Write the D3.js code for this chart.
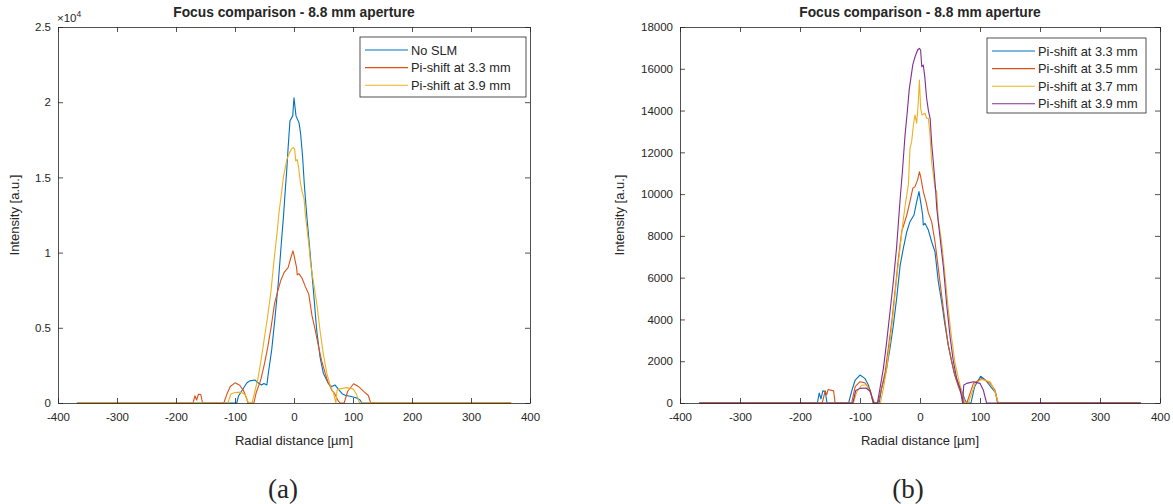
<!DOCTYPE html>
<html><head><meta charset="utf-8">
<script src="https://cdn.jsdelivr.net/npm/d3@7"></script>
<style>
html,body{margin:0;padding:0;background:#fff;}
svg text{font-family:"Liberation Sans",Arial,Helvetica,sans-serif;fill:#262626;}
</style>
</head><body>
<svg id="chart" width="1173" height="504"></svg>
<script>
// ---------- DATA ----------
const chartTitle = "Focus comparison - 8.8 mm aperture";
const xLabel = "Radial distance [µm]";
const yLabel = "Intensity [a.u.]";
const xTicks = [-400, -300, -200, -100, 0, 100, 200, 300, 400];
const yTicksLeft = [0, 5000, 10000, 15000, 20000, 25000];
const yTicksRight = [0, 2000, 4000, 6000, 8000, 10000, 12000, 14000, 16000, 18000];
const legendLeft = ["No SLM", "Pi-shift at 3.3 mm", "Pi-shift at 3.9 mm"];
const legendRight = ["Pi-shift at 3.3 mm", "Pi-shift at 3.5 mm", "Pi-shift at 3.7 mm", "Pi-shift at 3.9 mm"];

// No SLM
const xNoSLM = [-368, -97, -94, -89, -80, -75, -66, -63, -55, -51, -46, -43.5, -37.8, -32, -26.6, -21, -18, -15.3, -12.4, -9.6, -6.8, -2.2, 0, 3.4, 8.5, 11.3, 14.7, 17.5, 21.5, 26, 32.8, 38.4, 44, 49.7, 58, 64, 69.5, 76, 82, 88, 95, 105, 112, 115, 368];
const yNoSLM = [0, 0, 470, 780, 1330, 1470, 1530, 1400, 1200, 1300, 1200, 1980, 3530, 5750, 8000, 10870, 12310, 13870, 15420, 17200, 18760, 19090, 20300, 19090, 18640, 17870, 16310, 14530, 12530, 10530, 7530, 4870, 3090, 1980, 1310, 1090, 1200, 870, 600, 500, 450, 350, 200, 0, 0];

// Pi-shift at 3.3 mm
const x33 = [-368, -171, -168, -165, -162, -158, -155, -119, -114, -108, -100, -92, -86, -81, -78, -68, -64, -58, -55.6, -50, -44.4, -38.9, -33, -27.8, -22, -16.7, -10, -5.5, -1.7, 1, 4.4, 5.5, 8.3, 13.9, 19.4, 25, 30.5, 36, 41.7, 47, 52.8, 58, 64, 69, 75, 78, 85, 91, 101, 109, 119, 126, 130, 368];
const y33 = [0, 0, 480, 200, 580, 560, 0, 0, 560, 1100, 1340, 1180, 860, 380, 0, 0, 700, 1340, 1660, 2620, 3730, 5010, 6610, 7400, 8200, 8680, 9000, 9640, 10120, 9640, 9000, 8520, 8600, 8280, 7720, 7240, 5810, 4850, 3730, 2780, 1980, 1340, 860, 620, 140, 0, 0, 780, 1280, 1100, 740, 500, 0, 0];

// Pi-shift at 3.5 mm
const x35 = [-368, -163, -158, -155.5, -153, -144, -141.5, -114, -108, -100, -92, -83, -78, -70, -64, -58, -52.8, -47, -41.7, -36, -30.5, -22, -16.7, -12, -8.3, -4, -1, 1.1, 5.5, 10, 14, 19.4, 25, 30.5, 36, 41.7, 47, 52.8, 58, 64, 69.5, 73, 78, 89, 103, 117, 125, 129, 368];
const y35 = [0, 0, 580, 400, 650, 580, 0, 0, 780, 1020, 970, 620, 0, 0, 700, 1500, 2620, 3900, 5330, 6930, 8200, 9000, 9640, 10280, 10360, 10680, 11070, 10840, 10120, 9640, 9100, 8680, 7720, 6450, 5170, 3900, 2780, 1980, 1340, 780, 380, 0, 0, 940, 1180, 940, 620, 0, 0];

// Pi-shift at 3.7 mm
const x37 = [-368, -111, -105, -97, -89, -81, -75.5, -66, -61, -55.5, -50, -44.4, -38.9, -33.3, -27.8, -24, -19.4, -16.7, -13.9, -11, -8.3, -5.5, -2.8, -1, 1.1, 3.3, 8.3, 11, 13.9, 16.7, 19.4, 25, 27.8, 30.5, 36, 41.7, 47, 52.8, 58, 64, 69.5, 75, 80.5, 92, 103, 117, 125, 130.5, 368];
const y37 = [0, 0, 560, 860, 860, 380, 0, 0, 700, 1660, 2940, 4370, 5970, 7400, 8800, 9600, 10440, 12190, 12510, 13310, 13790, 13390, 14420, 15460, 14110, 13790, 13870, 13630, 13630, 12830, 11550, 10280, 10120, 8760, 7720, 6130, 4530, 3100, 1980, 1180, 540, 0, 0, 940, 1130, 1020, 540, 0, 0];

// Pi-shift at 3.9 mm
const x39 = [-368, -112, -107, -100, -90, -83, -77, -71, -66.7, -61, -55.5, -50, -44.5, -39, -33, -29, -25, -21, -18, -16, -12, -8, -4, -1, 1, 3, 5.5, 8, 11, 14, 17, 19.5, 22, 25.5, 28, 33.5, 39, 44.5, 50, 55.5, 61, 66.7, 71, 73, 78, 89, 100, 105.5, 111, 368];
const y39 = [0, 0, 600, 700, 720, 560, 0, 0, 700, 1660, 2940, 4370, 5800, 7450, 9800, 11200, 12800, 14000, 15000, 15400, 16200, 16600, 16900, 16980, 16900, 16100, 16180, 15600, 14600, 14000, 13600, 12400, 11600, 10400, 9300, 7900, 6500, 4700, 3200, 2000, 1200, 700, 0, 860, 940, 1020, 940, 620, 0, 0];

// ---------- DRAWING ----------
const colors = ["#0072BD", "#D95319", "#EDB120", "#7E2F8E"];
const svg = d3.select("#chart");
const FONT_TICK = 11.5, FONT_LABEL = 13, FONT_TITLE = 13.8, FONT_LEG = 12.8;

function zip(xs, ys) { return xs.map((x, i) => [x, ys[i]]); }

function panel(opt) {
  const x = d3.scaleLinear().domain([-400, 400]).range([opt.x0, opt.x1]);
  const y = d3.scaleLinear().domain([0, opt.yMax]).range([403, 27]);
  const g = svg.append("g");

  // lines
  const line = d3.line().x(d => x(d[0])).y(d => y(d[1]));
  opt.series.forEach((s, i) => {
    g.append("path").datum(zip(s.x, s.y))
      .attr("fill", "none").attr("stroke", s.color).attr("stroke-width", 1.1)
      .attr("stroke-linejoin", "round").attr("d", line);
  });

  // axes with inward ticks, box
  const axCol = "#262626";
  const xb = g.append("g").attr("transform", `translate(0,${y(0)})`)
    .call(d3.axisBottom(x).tickValues(xTicks).tickSizeInner(-5).tickSizeOuter(0).tickPadding(10).tickFormat(d => String(d)));
  const xt = g.append("g").attr("transform", `translate(0,${y(opt.yMax)})`)
    .call(d3.axisTop(x).tickValues(xTicks).tickSizeInner(-5).tickSizeOuter(0).tickFormat(""));
  const yl = g.append("g").attr("transform", `translate(${opt.x0},0)`)
    .call(d3.axisLeft(y).tickValues(opt.yTicks).tickSizeInner(-5).tickSizeOuter(0).tickPadding(7).tickFormat(opt.yFmt));
  const yr = g.append("g").attr("transform", `translate(${opt.x1},0)`)
    .call(d3.axisRight(y).tickValues(opt.yTicks).tickSizeInner(-5).tickSizeOuter(0).tickFormat(""));
  [xb, xt, yl, yr].forEach(a => {
    a.selectAll("path.domain").attr("stroke", axCol).attr("stroke-width", 0.8);
    a.selectAll(".tick line").attr("stroke", axCol).attr("stroke-width", 0.8);
    a.selectAll("text").attr("font-size", FONT_TICK).attr("fill", axCol)
      .style("font-family", '"Liberation Sans",Arial,sans-serif');
  });

  // exponent
  if (opt.exponent) {
    const t = g.append("text").attr("x", opt.x0 - 1).attr("y", 22).attr("font-size", FONT_TICK);
    t.append("tspan").text("×10");
    t.append("tspan").attr("font-size", 8.5).attr("dy", -5).text(opt.exponent);
  }

  // title, labels
  const cx = (opt.x0 + opt.x1) / 2;
  g.append("text").attr("x", cx).attr("y", 17).attr("text-anchor", "middle")
    .attr("font-size", FONT_TITLE).attr("font-weight", "bold").attr("fill", "#000").text(chartTitle);
  g.append("text").attr("x", cx).attr("y", 445).attr("text-anchor", "middle")
    .attr("font-size", FONT_LABEL).text(xLabel);
  g.append("text").attr("transform", `translate(${opt.yLabX},215) rotate(-90)`)
    .attr("text-anchor", "middle").attr("font-size", FONT_LABEL).text(yLabel);

  // caption
  svg.append("text").attr("x", opt.capX).attr("y", 498).attr("text-anchor", "middle")
    .style("font-family", '"Liberation Serif","DejaVu Serif",serif').attr("font-size", 27)
    .attr("fill", "#000").text(opt.caption);

  // legend
  const L = opt.legend;
  const lg = g.append("g");
  lg.append("rect").attr("x", L.x).attr("y", L.y).attr("width", L.w).attr("height", L.h)
    .attr("fill", "#fff").attr("stroke", axCol).attr("stroke-width", 0.8);
  opt.series.forEach((s, i) => {
    const yy = L.y + 13 + i * 17.6;
    lg.append("line").attr("x1", L.x + 5).attr("x2", L.x + 48).attr("y1", yy).attr("y2", yy)
      .attr("stroke", s.color).attr("stroke-width", 1.1);
    lg.append("text").attr("x", L.x + 51).attr("y", yy + 4.5).attr("font-size", FONT_LEG).text(s.name);
  });
}

panel({
  x0: 58, x1: 530, yMax: 25000, yTicks: yTicksLeft,
  yFmt: d => String(d / 10000), exponent: "4", yLabX: 19, capX: 283, caption: "(a)",
  series: [
    { name: legendLeft[0], x: xNoSLM, y: yNoSLM, color: colors[0] },
    { name: legendLeft[1], x: x33, y: y33, color: colors[1] },
    { name: legendLeft[2], x: x39, y: y39, color: colors[2] }
  ],
  legend: { x: 360, y: 37, w: 166, h: 60 }
});

panel({
  x0: 680, x1: 1160, yMax: 18000, yTicks: yTicksRight,
  yFmt: d => String(d), exponent: null, yLabX: 624, capX: 908, caption: "(b)",
  series: [
    { name: legendRight[0], x: x33, y: y33, color: colors[0] },
    { name: legendRight[1], x: x35, y: y35, color: colors[1] },
    { name: legendRight[2], x: x37, y: y37, color: colors[2] },
    { name: legendRight[3], x: x39, y: y39, color: colors[3] }
  ],
  legend: { x: 987, y: 38, w: 159, h: 75 }
});
</script>
</body></html>
